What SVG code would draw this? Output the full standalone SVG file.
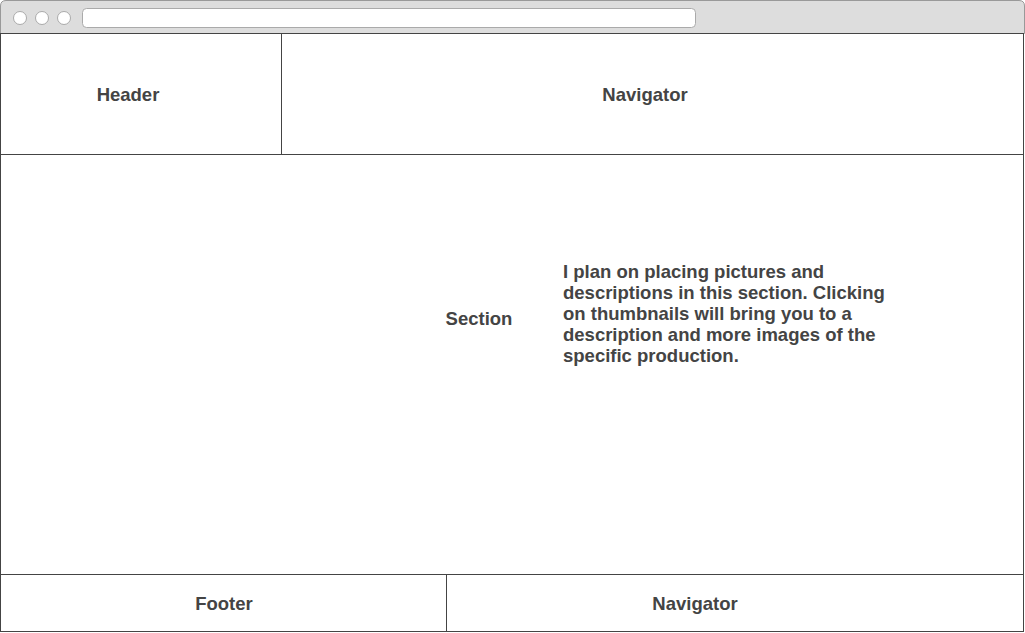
<svg xmlns="http://www.w3.org/2000/svg" width="1025" height="633" viewBox="0 0 1025 633">
<style>
.box{fill:#fff;stroke:#444;stroke-width:1}
.lbl{font-family:"Liberation Sans",Arial,sans-serif;font-weight:bold;font-size:18.5px;fill:#444}
.dot{fill:#fff;stroke:#aaa;stroke-width:1}
</style>
<g id="browser">
<path d="M0.5,33.5 V6 Q0.5,0.5 6,0.5 H1019 Q1024.5,0.5 1024.5,6 V33.5 Z" fill="#ddd" stroke="#999"/>
<circle class="dot" cx="20" cy="18" r="6.5"/>
<circle class="dot" cx="42" cy="18" r="6.5"/>
<circle class="dot" cx="64" cy="18" r="6.5"/>
<rect x="82.5" y="8.5" width="613" height="19" rx="4" fill="#fff" stroke="#aaa"/>
</g>
<g id="header">
<rect class="box" x="0.5" y="33.5" width="281" height="121"/>
<text class="lbl" x="128" y="101" text-anchor="middle">Header</text>
</g>
<g id="nav-top">
<rect class="box" x="281.5" y="33.5" width="742" height="121"/>
<text class="lbl" x="645" y="101" text-anchor="middle">Navigator</text>
</g>
<g id="section">
<rect class="box" x="0.5" y="154.5" width="1023" height="420"/>
<text class="lbl" x="479" y="325" text-anchor="middle">Section</text>
<text class="lbl" x="563">
<tspan x="563" y="278">I plan on placing pictures and</tspan>
<tspan x="563" y="299">descriptions in this section. Clicking</tspan>
<tspan x="563" y="320">on thumbnails will bring you to a</tspan>
<tspan x="563" y="341">description and more images of the</tspan>
<tspan x="563" y="362">specific production.</tspan>
</text>
</g>
<g id="footer">
<rect class="box" x="0.5" y="574.5" width="446" height="57"/>
<text class="lbl" x="224" y="610" text-anchor="middle">Footer</text>
</g>
<g id="nav-bottom">
<rect class="box" x="446.5" y="574.5" width="577" height="57"/>
<text class="lbl" x="695" y="610" text-anchor="middle">Navigator</text>
</g>
<g id="connectors"/>
</svg>
